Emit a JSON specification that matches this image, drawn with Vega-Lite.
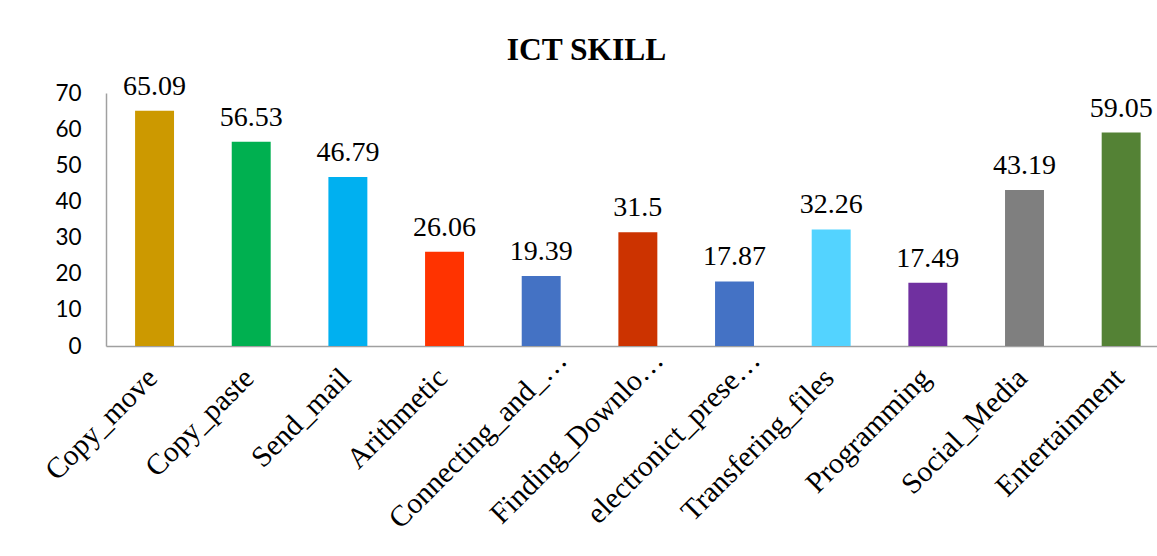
{
  "$schema": "https://vega.github.io/schema/vega-lite/v6.json",
  "autosize": "none",
  "width": 1051,
  "height": 253,
  "padding": {"left": 106, "top": 93, "right": 0, "bottom": 210},
  "background": "white",
  "title": {
    "text": "ICT SKILL",
    "font": "Liberation Serif",
    "fontSize": 31.5,
    "fontWeight": "bold",
    "color": "#000000",
    "anchor": "middle",
    "frame": "group",
    "baseline": "alphabetic",
    "offset": -19,
    "dx": -45
  },
  "data": {
    "values": [
      {"skill": "Copy_move", "value": 65.09, "label": "65.09", "color": "#CC9900"},
      {"skill": "Copy_paste", "value": 56.53, "label": "56.53", "color": "#00B050"},
      {"skill": "Send_mail", "value": 46.79, "label": "46.79", "color": "#00B0F0"},
      {"skill": "Arithmetic", "value": 26.06, "label": "26.06", "color": "#FF3300"},
      {"skill": "Connecting_and_…", "value": 19.39, "label": "19.39", "color": "#4472C4"},
      {"skill": "Finding_Downlo…", "value": 31.5, "label": "31.5", "color": "#CC3300"},
      {"skill": "electronict_prese…", "value": 17.87, "label": "17.87", "color": "#4472C5"},
      {"skill": "Transfering_files", "value": 32.26, "label": "32.26", "color": "#53D3FF"},
      {"skill": "Programming", "value": 17.49, "label": "17.49", "color": "#7030A0"},
      {"skill": "Social_Media", "value": 43.19, "label": "43.19", "color": "#7F7F7F"},
      {"skill": "Entertainment", "value": 59.05, "label": "59.05", "color": "#548235"}
    ]
  },
  "encoding": {
    "x": {
      "field": "skill",
      "type": "nominal",
      "sort": null,
      "scale": {"paddingInner": 0.597, "paddingOuter": 0.235, "align": 0.64},
      "axis": {
        "title": null,
        "labelAngle": -45,
        "labelFont": "Liberation Serif",
        "labelFontSize": 29.5,
        "labelColor": "#000000",
        "labelBaseline": "middle",
        "labelPadding": {"condition": {"test": "indexof(datum.value, '…') >= 0", "value": 9}, "value": 27},
        "labelOffset": {"condition": {"test": "indexof(datum.value, '…') >= 0", "value": 21}, "value": -2},
        "labelLimit": 400,
        "ticks": false,
        "domainColor": "#A0A0A0",
        "domainWidth": 1.5
      }
    },
    "y": {
      "field": "value",
      "type": "quantitative",
      "scale": {"domain": [0, 70]},
      "axis": {
        "title": null,
        "values": [0, 10, 20, 30, 40, 50, 60, 70],
        "grid": false,
        "ticks": false,
        "labelFont": "Lato",
        "labelFontSize": 22.5,
        "labelColor": "#000000",
        "labelPadding": 25,
        "domainColor": "#A0A0A0",
        "domainWidth": 1.5
      }
    }
  },
  "layer": [
    {
      "mark": {"type": "bar"},
      "encoding": {
        "color": {"field": "color", "type": "nominal", "scale": null, "legend": null}
      }
    },
    {
      "mark": {
        "type": "text",
        "font": "Liberation Serif",
        "fontSize": 28,
        "color": "#000000",
        "baseline": "alphabetic",
        "dy": -16
      },
      "encoding": {
        "text": {"field": "label", "type": "nominal"}
      }
    }
  ],
  "config": {
    "view": {"stroke": null}
  }
}
